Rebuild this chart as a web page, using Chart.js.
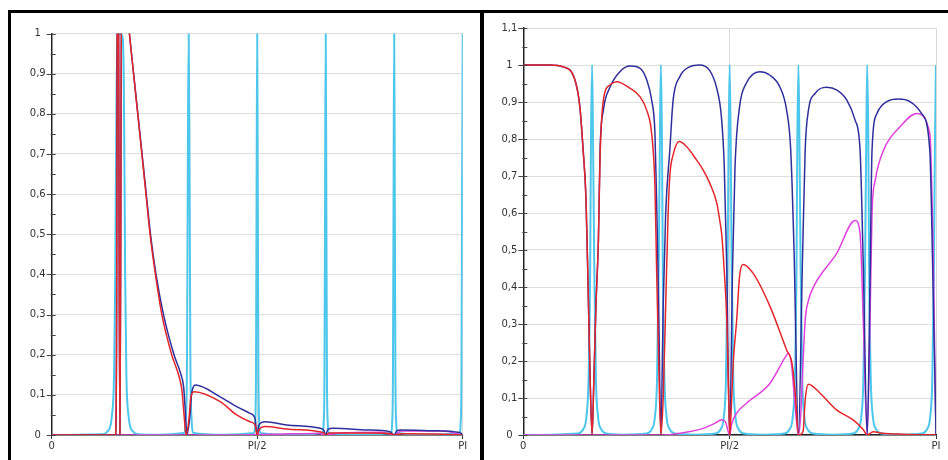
<!DOCTYPE html>
<html><head><meta charset="utf-8">
<script src="https://cdn.jsdelivr.net/npm/chart.js@4"></script>
<style>
html,body{margin:0;padding:0;background:#fff;width:948px;height:460px;overflow:hidden;position:relative}
.panel{position:absolute;top:0;height:460px}
.bar{position:absolute;background:#000}
</style></head><body>
<div class="panel" style="left:0;width:480px"><canvas id="cL" width="480" height="460"></canvas></div>
<div class="panel" style="left:484px;width:464px"><canvas id="cR" width="464" height="460"></canvas></div>
<div class="bar" style="left:8px;top:10px;width:940px;height:3px"></div>
<div class="bar" style="left:8px;top:10px;width:3px;height:450px"></div>
<div class="bar" style="left:480px;top:10px;width:4px;height:450px"></div>
<script>
// x values are in units of PI (0 .. 1)
const xTickValues = [0, 0.5, 1];
const xTickLabels = ["0", "PI/2", "PI"];
const yTickLabelsLeft = ["0","0,1","0,2","0,3","0,4","0,5","0,6","0,7","0,8","0,9","1"];
const yTickLabelsRight = ["0","0,1","0,2","0,3","0,4","0,5","0,6","0,7","0,8","0,9","1","1,1"];

const leftBlue = [[0,0],[0.155,0],[0.158,0.3],[0.160,1.3],[0.162,1.3],[0.164,0.5],[0.166,0],[0.168,0.5],[0.170,1.15],[0.175,1.12],[0.182,1.07],[0.189,1.0],[0.2019,0.875],[0.2148,0.75],[0.2276,0.625],[0.2404,0.5],[0.2538,0.4],[0.272,0.3],[0.2976,0.2],[0.3146,0.15],[0.321,0.12],[0.325,0.06],[0.329,0],
[0.3365,0.05],[0.34,0.1],[0.344,0.118],[0.349,0.1245],[0.41,0.095],[0.45,0.0705],[0.4825,0.054],[0.4946,0.0415],[0.5,0],
[0.504,0.025],[0.519,0.033],[0.572,0.025],[0.653,0.0166],[0.662,0.012],[0.6667,0],
[0.672,0.014],[0.685,0.0166],[0.766,0.0125],[0.823,0.008],[0.8333,0],
[0.84,0.011],[0.847,0.0125],[0.928,0.0108],[0.993,0.006],[1,0]];
const leftRed = [[0,0],[0.155,0],[0.158,0.3],[0.160,1.3],[0.162,1.3],[0.164,0.5],[0.166,0],[0.168,0.5],[0.170,1.15],[0.175,1.12],[0.182,1.07],[0.189,1.0],[0.2019,0.872],[0.2148,0.745],[0.2276,0.617],[0.2404,0.49],[0.2538,0.39],[0.268,0.3],[0.292,0.2],[0.31,0.145],[0.317,0.11],[0.322,0.05],[0.327,0],
[0.334,0.04],[0.338,0.09],[0.342,0.105],[0.347,0.108],[0.41,0.083],[0.45,0.05],[0.4825,0.033],[0.4946,0.025],[0.5,0],
[0.504,0.012],[0.519,0.021],[0.572,0.015],[0.653,0.008],[0.662,0.005],[0.6667,0],
[0.675,0.005],[0.766,0.005],[0.823,0.004],[0.8333,0],
[0.85,0.003],[0.95,0.002],[1,0]];
const leftMagenta = [[0,0],[0.45,0],[0.5,0.001],[0.55,0.002],[0.65,0.004],[0.6667,0],[0.7,0.005],[0.8,0.007],[0.8333,0],[0.85,0.01],[0.95,0.01],[1,0]];
const leftCyan = [[0,0],[0.1217,0.002],[0.1367,0.01],[0.1467,0.05],[0.1517,0.15],[0.1547,0.4],[0.1577,0.85],[0.1607,0.99],[0.1667,1],[0.1727,0.99],[0.1757,0.85],[0.1787,0.4],[0.1817,0.15],[0.1867,0.05],[0.1967,0.01],[0.2117,0.002],
[0.26,0.0005],[0.3213,0.005],[0.3263,0.04],[0.3293,0.2],[0.3313,0.7],[0.3333,1],[0.3353,0.7],[0.3373,0.2],[0.3403,0.04],[0.3453,0.005],
[0.42,0.0005],[0.492,0.005],[0.495,0.03],[0.497,0.15],[0.4985,0.6],[0.5,1],[0.5015,0.6],[0.503,0.15],[0.505,0.03],[0.508,0.005],
[0.58,0.0005],[0.6587,0.005],[0.6617,0.03],[0.6637,0.15],[0.6652,0.6],[0.6667,1],[0.6682,0.6],[0.6697,0.15],[0.6717,0.03],[0.6747,0.005],
[0.75,0.0005],[0.8253,0.005],[0.8283,0.03],[0.8303,0.15],[0.8318,0.6],[0.8333,1],[0.8348,0.6],[0.8363,0.15],[0.8383,0.03],[0.8413,0.005],
[0.92,0.0005],[0.992,0.005],[0.995,0.03],[0.997,0.15],[0.9985,0.6],[1,1]];

const rightBlue = [[0,1],[0.065,1],[0.096,0.995],[0.125,0.96],[0.137,0.887],[0.145,0.77],[0.152,0.635],[0.157,0.4],[0.162,0.15],[0.1667,0],
[0.171,0.15],[0.176,0.35],[0.182,0.527],[0.186,0.77],[0.194,0.878],[0.21,0.94],[0.234,0.982],[0.259,0.997],[0.283,0.991],[0.299,0.96],[0.311,0.905],[0.319,0.815],[0.323,0.635],[0.328,0.35],[0.3333,0],
[0.339,0.35],[0.345,0.6],[0.355,0.77],[0.363,0.905],[0.379,0.968],[0.403,0.995],[0.427,1],[0.451,0.986],[0.468,0.94],[0.48,0.86],[0.487,0.725],[0.493,0.45],[0.5,0],
[0.507,0.45],[0.513,0.725],[0.524,0.887],[0.54,0.95],[0.573,0.982],[0.597,0.973],[0.622,0.94],[0.638,0.878],[0.648,0.77],[0.656,0.5],[0.6667,0],
[0.676,0.45],[0.683,0.77],[0.691,0.878],[0.707,0.923],[0.735,0.94],[0.76,0.932],[0.784,0.905],[0.804,0.851],[0.816,0.77],[0.824,0.45],[0.8333,0],
[0.84,0.4],[0.845,0.77],[0.857,0.869],[0.881,0.901],[0.909,0.908],[0.937,0.901],[0.965,0.869],[0.985,0.77],[0.992,0.45],[1,0]];
const rightRed = [[0,1],[0.065,1],[0.096,0.995],[0.125,0.96],[0.137,0.887],[0.145,0.77],[0.152,0.635],[0.157,0.4],[0.162,0.15],[0.1667,0],
[0.171,0.15],[0.176,0.35],[0.182,0.527],[0.186,0.75],[0.194,0.905],[0.21,0.946],[0.226,0.955],[0.259,0.937],[0.283,0.914],[0.299,0.878],[0.311,0.815],[0.319,0.671],[0.323,0.45],[0.328,0.2],[0.3333,0],
[0.339,0.1],[0.345,0.35],[0.351,0.6],[0.355,0.7],[0.363,0.757],[0.378,0.793],[0.396,0.779],[0.42,0.743],[0.436,0.716],[0.452,0.68],[0.469,0.626],[0.476,0.58],[0.481,0.54],[0.486,0.46],[0.493,0.31],[0.497,0.13],[0.5,0],
[0.503,0.05],[0.509,0.2],[0.517,0.31],[0.524,0.428],[0.532,0.461],[0.557,0.437],[0.598,0.347],[0.638,0.23],[0.651,0.194],[0.659,0.113],[0.6667,0],
[0.678,0.01],[0.683,0.095],[0.691,0.137],[0.719,0.113],[0.759,0.068],[0.8,0.04],[0.824,0.014],[0.8333,0],
[0.84,0.004],[0.848,0.009],[0.87,0.005],[0.92,0.002],[1,0]];
const rightMagenta = [[0,0],[0.3333,0],[0.38,0.005],[0.436,0.018],[0.465,0.032],[0.481,0.041],[0.49,0.035],[0.5,0],
[0.505,0.03],[0.517,0.059],[0.541,0.086],[0.598,0.14],[0.638,0.216],[0.642,0.221],[0.65,0.19],[0.657,0.1],[0.6667,0],
[0.672,0.05],[0.678,0.2],[0.683,0.31],[0.69,0.36],[0.703,0.4],[0.759,0.49],[0.804,0.58],[0.816,0.545],[0.824,0.3],[0.8333,0],
[0.84,0.3],[0.845,0.6],[0.853,0.69],[0.873,0.77],[0.913,0.833],[0.953,0.869],[0.985,0.815],[0.993,0.5],[1,0]];
const rightCyan = [[0,0],[0.132,0.004],[0.145,0.015],[0.153,0.05],[0.158,0.15],[0.162,0.45],[0.164,0.8],[0.1667,1],[0.169,0.8],[0.172,0.45],[0.176,0.15],[0.181,0.05],[0.189,0.015],[0.202,0.004],
[0.24,0.001],
[0.298,0.004],[0.311,0.015],[0.319,0.05],[0.324,0.15],[0.328,0.45],[0.331,0.8],[0.3333,1],[0.336,0.8],[0.338,0.45],[0.342,0.15],[0.347,0.05],[0.355,0.015],[0.368,0.004],
[0.42,0.001],
[0.465,0.004],[0.478,0.015],[0.486,0.05],[0.491,0.15],[0.495,0.45],[0.4975,0.8],[0.5,1],[0.5025,0.8],[0.505,0.45],[0.509,0.15],[0.514,0.05],[0.522,0.015],[0.535,0.004],
[0.58,0.001],
[0.632,0.004],[0.645,0.015],[0.653,0.05],[0.658,0.15],[0.662,0.45],[0.664,0.8],[0.6667,1],[0.669,0.8],[0.672,0.45],[0.676,0.15],[0.681,0.05],[0.689,0.015],[0.702,0.004],
[0.75,0.001],
[0.798,0.004],[0.811,0.015],[0.819,0.05],[0.824,0.15],[0.828,0.45],[0.831,0.8],[0.8333,1],[0.836,0.8],[0.838,0.45],[0.842,0.15],[0.847,0.05],[0.855,0.015],[0.868,0.004],
[0.92,0.001],
[0.965,0.004],[0.978,0.015],[0.986,0.05],[0.991,0.15],[0.995,0.45],[0.9975,0.8],[1,1]];

const COL = {red:'#e3262b', blue:'#2f2f9c', magenta:'#e040dc', cyan:'#4cc6ea'};
const FONT = {family:'"DejaVu Sans", "Liberation Sans", sans-serif', size:10};

function ds(pairs, color, w){
  return {data: pairs.map(p => ({x:p[0], y:p[1]})), borderColor: color, borderWidth: w,
    pointRadius: 0, fill: false, cubicInterpolationMode: 'monotone'};
}

const minorTicks = {
  id: 'minorTicks',
  afterDraw(chart) {
    const y = chart.scales.y, ctx = chart.ctx;
    const ax = chart.chartArea.left;
    ctx.save();
    ctx.strokeStyle = '#444'; ctx.lineWidth = 1;
    const n = Math.round((y.max - y.min) / 0.05);
    for (let i = 0; i <= n; i++) {
      const v = y.min + i * 0.05;
      const py = Math.round(y.getPixelForValue(v)) + 0.5;
      ctx.beginPath();
      if (i % 2 === 0) { ctx.moveTo(ax - 5, py); ctx.lineTo(ax + 4, py); }
      else { ctx.moveTo(ax - 1, py); ctx.lineTo(ax + 4, py); }
      ctx.stroke();
    }
    ctx.restore();
  }
};

function makeChart(id, sets, yMax, yLabels, pad, yWidth) {
  return new Chart(document.getElementById(id), {
    type: 'line',
    data: { datasets: sets },
    plugins: [minorTicks],
    options: {
      responsive: false, animation: false, devicePixelRatio: 1,
      layout: { padding: pad },
      plugins: { legend: {display: false}, tooltip: {enabled: false} },
      scales: {
        x: {
          type: 'linear', min: 0, max: 1,
          afterBuildTicks: s => { s.ticks = xTickValues.map(v => ({value: v})); },
          afterFit: s => { s.height = 20; },
          ticks: { font: FONT, color: '#333', padding: 1, maxRotation: 0,
                   callback: (v) => xTickLabels[xTickValues.indexOf(v)] },
          grid: { color: '#d8d8d8', tickColor: '#333', tickLength: 4, lineWidth: 1 },
          border: { color: '#222', width: 1.5 }
        },
        y: {
          min: 0, max: yMax,
          afterBuildTicks: s => { s.ticks = yLabels.map((l, i) => ({value: i / 10})); },
          afterFit: s => { s.width = yWidth; },
          ticks: { font: FONT, color: '#333', padding: 2, crossAlign: 'center',
                   callback: (v, i) => yLabels[i] },
          grid: { color: '#dedede', tickColor: 'rgba(0,0,0,0)', tickLength: 4, lineWidth: 1 },
          border: { color: '#222', width: 1.5 }
        }
      }
    }
  });
}

makeChart('cL', [ds(leftRed, COL.red, 1.5), ds(leftBlue, COL.blue, 1.5), ds(leftMagenta, COL.magenta, 1.5), ds(leftCyan, COL.cyan, 2)],
  1, yTickLabelsLeft, {left: 11.7, right: 17.3, top: 33.5, bottom: 5}, 40);
makeChart('cR', [ds(rightRed, COL.red, 1.5), ds(rightBlue, COL.blue, 1.5), ds(rightMagenta, COL.magenta, 1.5), ds(rightCyan, COL.cyan, 2)],
  1.1, yTickLabelsRight, {left: 3.3, right: 12, top: 28, bottom: 5}, 36);
</script>
</body></html>
